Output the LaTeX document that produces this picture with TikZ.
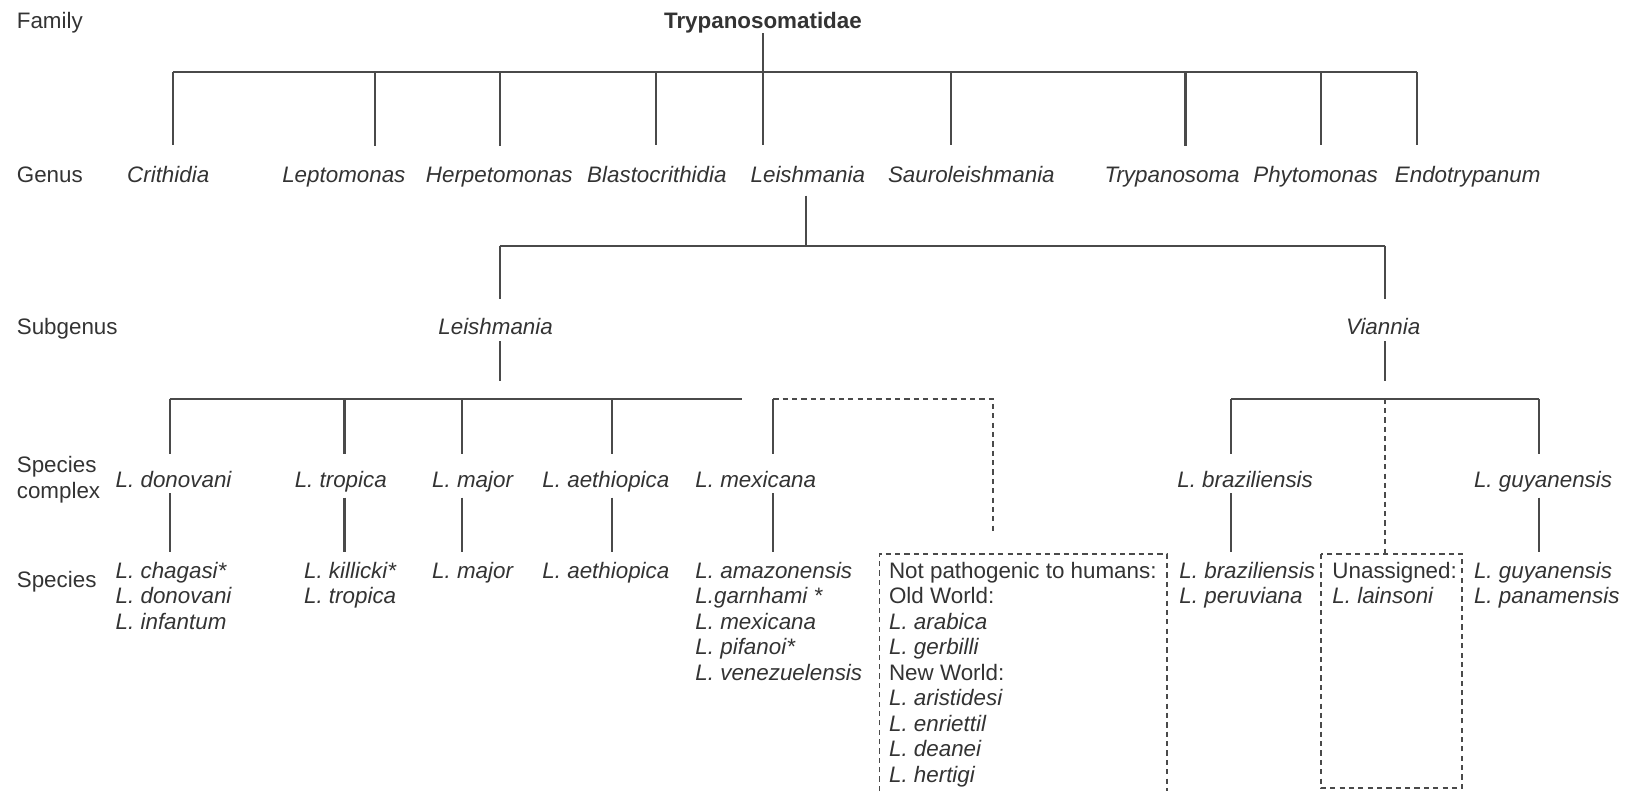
\documentclass[tikz,border=0pt]{standalone}
\usepackage{fontspec}
\setmainfont{Liberation Sans}
\usepackage{tikz}
\usetikzlibrary{calc}

\definecolor{txtgray}{HTML}{333333}
\definecolor{linegray}{HTML}{4A4A4A}
\newcommand{\tfont}{\fontsize{21.5}{24.5}\selectfont}

\tikzset{
  lbl/.style={anchor=base west, inner sep=0pt, text=txtgray, font=\tfont},
  taxon/.style={lbl, font=\tfont\itshape},
  splist/.style={anchor=north west, inner sep=0pt, align=left, text=txtgray, font=\tfont},
  br/.style={draw=linegray, line width=2pt},
  dbr/.style={br, line width=1.8pt, dash pattern=on 5pt off 4pt},
}

\begin{document}
\begin{tikzpicture}[x=1pt,y=1pt]
\useasboundingbox (0,0) rectangle (1568,-760);
% rank labels:
\node[lbl] (rfam) at (16,-27.5) {Family};
\node[lbl] (rgen) at (16,-175.5) {Genus};
\node[lbl] (rsub) at (16,-321.5) {Subgenus};
\node[splist, anchor=west] (rcpx) at (16,-461) {Species\\complex};
\node[lbl] (rspc) at (16,-564.5) {Species};
% family:
\node[lbl, anchor=base, font=\tfont\bfseries] (fam) at (733,-27.5) {Trypanosomatidae};
% genera:
\node[taxon] (crith) at (122,-175.5) {Crithidia};
\node[taxon] (lepto) at (271,-175.5) {Leptomonas};
\node[taxon] (herpe) at (409,-175.5) {Herpetomonas};
\node[taxon] (blast) at (564,-175.5) {Blastocrithidia};
\node[taxon] (leish) at (721,-175.5) {Leishmania};
\node[taxon] (sauro) at (853,-175.5) {Sauroleishmania};
\node[taxon] (trypa) at (1061,-175.5) {Trypanosoma};
\node[taxon] (phyto) at (1204,-175.5) {Phytomonas};
\node[taxon] (endo) at (1340,-175.5) {Endotrypanum};
\draw[br] (166,-69) -- (1361,-69);
\draw[br] (fam.south) -- (733,-69);
\foreach \x/\n in {166/crith,360/lepto,480/herpe,630/blast,733/leish,914/sauro,1139/trypa,1269/phyto,1361/endo}
  \draw[br] (\x,-69) -- ($(\x,-69 |- \n.north)+(0,20)$);
% subgenera:
\node[taxon] (subleish) at (421,-321.5) {Leishmania};
\node[taxon] (vian) at (1293,-321.5) {Viannia};
\draw[br] ($(774,0 |- leish.south)+(0,-12)$) -- (774,-236);
\draw[br] (480,-236) -- (1331,-236);
\foreach \x/\n in {480/subleish,1331/vian}{
  \draw[br] (\x,-236) -- ($(\x,-236 |- \n.north)+(0,18)$);
  \draw[br] ($(\x,0 |- \n.south)+(0,-6)$) -- (\x,-366);
}
% species complexes:
\node[taxon] (cdon) at (111,-468.5) {L. donovani};
\node[taxon] (ctro) at (283,-468.5) {L. tropica};
\node[taxon] (cmaj) at (415,-468.5) {L. major};
\node[taxon] (caet) at (521,-468.5) {L. aethiopica};
\node[taxon] (cmex) at (668,-468.5) {L. mexicana};
\node[taxon] (cbra) at (1131,-468.5) {L. braziliensis};
\node[taxon] (cguy) at (1416,-468.5) {L. guyanensis};
\draw[br] (163,-383) -- (713,-383);
\draw[br] (1183,-383) -- (1479,-383);
\foreach \x/\n in {163/cdon,331/ctro,444/cmaj,588/caet,743/cmex,1183/cbra,1479/cguy}{
  \draw[br] (\x,-383) -- ($(\x,-383 |- \n.north)+(0,17)$);
  \draw[br] ($(\x,0 |- \n.south)+(0,-5)$) -- (\x,-530);
}
\draw[dbr] (743,-383) -- (954,-383) -- (954,-513);
\draw[dbr] (1331,-383) -- (1331,-532);
% species:
\node[splist, font=\tfont\itshape] (sdon) at (111,-540) {L. chagasi*\\L. donovani\\L. infantum};
\node[splist, font=\tfont\itshape] (stro) at (292,-540) {L. killicki*\\L. tropica};
\node[splist, font=\tfont\itshape] (smaj) at (415,-540) {L. major};
\node[splist, font=\tfont\itshape] (saet) at (521,-540) {L. aethiopica};
\node[splist, font=\tfont\itshape] (smex) at (668,-540) {L. amazonensis\\L.garnhami *\\L. mexicana\\L. pifanoi*\\L. venezuelensis};
\node[splist] (snp) at (854,-540) {Not pathogenic to humans:\\Old World:\\\textit{L. arabica}\\\textit{L. gerbilli}\\New World:\\\textit{L. aristidesi}\\\textit{L. enriettil}\\\textit{L. deanei}\\\textit{L. hertigi}};
\node[splist, font=\tfont\itshape] (sbra) at (1133,-540) {L. braziliensis\\L. peruviana};
\node[splist] (suna) at (1280,-540) {Unassigned:\\\textit{L. lainsoni}};
\node[splist, font=\tfont\itshape] (sguy) at (1416,-540) {L. guyanensis\\L. panamensis};
\draw[dbr] (845,-760) -- (845,-532) -- (1121,-532) -- (1121,-760);
\draw[dbr] (1269,-532) rectangle (1405,-757);
\end{tikzpicture}
\end{document}
